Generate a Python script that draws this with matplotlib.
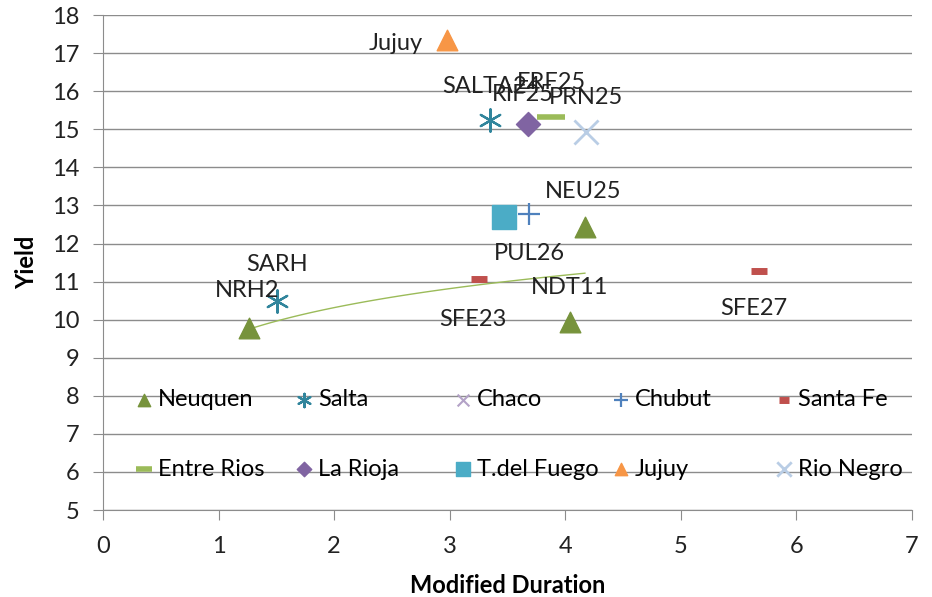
import numpy as np
import matplotlib.pyplot as plt
from matplotlib.legend import Legend

plt.rcParams['font.family'] = ['Lato', 'DejaVu Sans']

# series (province) -> bonds
series = ['Neuquen', 'Salta', 'Chaco', 'Chubut', 'Santa Fe',
          'Entre Rios', 'La Rioja', 'T.del Fuego', 'Jujuy', 'Rio Negro']

neuquen_x = [1.26, 4.04, 4.17]
neuquen_y = [9.78, 9.94, 12.43]
neuquen_lbl = ['NRH2', 'NDT11', 'NEU25']
salta_x = [1.51, 3.35]
salta_y = [10.49, 15.24]
salta_lbl = ['SARH', 'SALTA24']
chaco_x = []
chaco_y = []
chubut_x = [3.69]
chubut_y = [12.77]
chubut_lbl = ['PUL26']
santafe_x = [3.25, 5.68]
santafe_y = [11.07, 11.28]
santafe_lbl = ['SFE23', 'SFE27']
entrerios_x = [3.88]
entrerios_y = [15.32]
entrerios_lbl = ['ERF25']
larioja_x = [3.68]
larioja_y = [15.14]
larioja_lbl = ['RIF25']
tdf_x = [3.47]
tdf_y = [12.70]
jujuy_x = [2.98]
jujuy_y = [17.34]
jujuy_lbl = ['Jujuy']
rionegro_x = [4.18]
rionegro_y = [14.93]
rionegro_lbl = ['PRN25']

fig = plt.figure(figsize=(9.32, 5.97), dpi=100)
ax = fig.add_axes([0.1105, 0.1457, 0.868, 0.829])

h = []
h.append(ax.scatter(neuquen_x, neuquen_y, marker='^', s=220, color='#77933C', label='Neuquen', zorder=3))
h.append(ax.scatter(salta_x, salta_y, marker=(6, 2, 0), s=260, color='#31859C', linewidths=1.6, label='Salta', zorder=3))
h.append(ax.scatter(chaco_x, chaco_y, marker='x', s=200, color='#B3A2C7', label='Chaco', zorder=3))
h.append(ax.scatter(chubut_x, chubut_y, marker='+', s=260, color='#4F81BD', linewidths=1.6, label='Chubut', zorder=3))
h.append(ax.scatter(santafe_x, santafe_y, marker='_', s=120, color='#C0504D', linewidths=5, label='Santa Fe', zorder=3))
h.append(ax.scatter(entrerios_x, entrerios_y, marker='_', s=400, color='#9BBB59', linewidths=4, label='Entre Rios', zorder=3))
h.append(ax.scatter(larioja_x, larioja_y, marker='D', s=150, color='#8064A2', label='La Rioja', zorder=3))
h.append(ax.scatter(tdf_x, tdf_y, marker='s', s=300, color='#4BACC6', label='T.del Fuego', zorder=3))
h.append(ax.scatter(jujuy_x, jujuy_y, marker='^', s=220, color='#F79646', label='Jujuy', zorder=3))
h.append(ax.scatter(rionegro_x, rionegro_y, marker='x', s=300, color='#B9CDE5', linewidths=2, label='Rio Negro', zorder=3))

# log trendline for Neuquen
b, a = np.polyfit(np.log(neuquen_x), neuquen_y, 1)
xt = np.linspace(min(neuquen_x), max(neuquen_x), 100)
ax.plot(xt, a + b * np.log(xt), color='#9BBB59', lw=1, zorder=2)

# point labels (offset in points)
fs = 17
def lab(x, y, t, dx, dy, ha='center'):
    ax.annotate(t, (x, y), xytext=(dx, dy), textcoords='offset points',
                ha=ha, va='center', fontsize=fs, color='#222222')

lab(jujuy_x[0], jujuy_y[0], 'Jujuy', -18, -2, ha='right')
lab(neuquen_x[0], neuquen_y[0], 'NRH2', -1, 27)
lab(neuquen_x[1], neuquen_y[1], 'NDT11', 0, 25)
lab(neuquen_x[2], neuquen_y[2], 'NEU25', -1, 26)
lab(salta_x[0], salta_y[0], 'SARH', 0, 26)
lab(salta_x[1], salta_y[1], 'SALTA24', 1, 24)
lab(chubut_x[0], chubut_y[0], 'PUL26', 0, -28)
lab(santafe_x[0], santafe_y[0], 'SFE23', -4, -29)
lab(santafe_x[1], santafe_y[1], 'SFE27', -4, -27)
lab(larioja_x[0], larioja_y[0], 'RIF25', -4, 21)
lab(entrerios_x[0], entrerios_y[0], 'ERF25', 0, 25)
lab(rionegro_x[0], rionegro_y[0], 'PRN25', 0, 24.5)

ax.set_xlim(0, 7)
ax.set_ylim(5, 18)
ax.set_xticks(range(0, 8))
ax.set_yticks(range(5, 19))
ax.yaxis.grid(True, color='#8c8c8c', lw=1)
ax.set_axisbelow(True)
for s in ['top', 'right']:
    ax.spines[s].set_visible(False)
ax.spines['left'].set_color('#8c8c8c')
ax.spines['bottom'].set_color('#8c8c8c')
ax.tick_params(axis='y', length=7, color='#8c8c8c', labelsize=17, labelcolor='#222222', pad=10)
ax.tick_params(axis='x', length=7, color='#8c8c8c', labelsize=17, labelcolor='#222222', pad=12)
ax.set_xlabel('Modified Duration', fontsize=17, fontweight='bold', labelpad=12)
ax.set_ylabel('Yield', fontsize=17, fontweight='bold', labelpad=10)

# legend: five equal-width columns of two entries each (filled row by row)
col_x = [0.036, 0.2336, 0.430, 0.6255, 0.827]
for c in range(5):
    leg = Legend(ax, [h[c], h[c + 5]], [series[c], series[c + 5]],
                 loc='upper left', bbox_to_anchor=(col_x[c], 0.244), frameon=False,
                 fontsize=17, labelspacing=2.05, handletextpad=0.1,
                 handlelength=1.0, markerscale=0.6, borderaxespad=0, borderpad=0)
    ax.add_artist(leg)

fig.savefig('out.png', dpi=100)
